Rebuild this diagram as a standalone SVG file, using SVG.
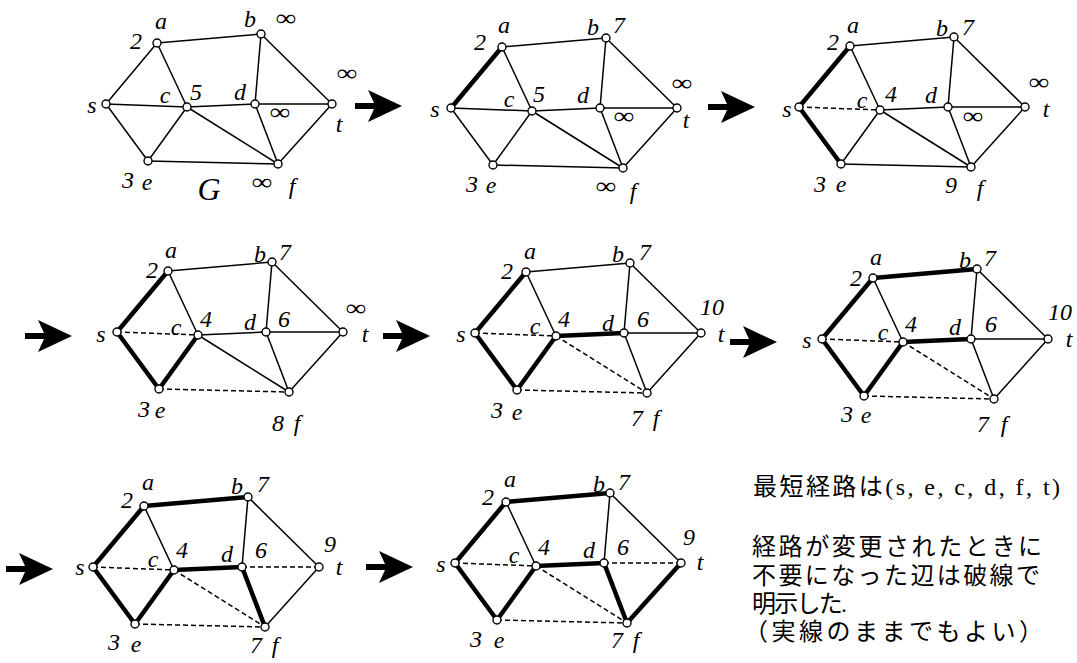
<svg xmlns="http://www.w3.org/2000/svg" xmlns:xlink="http://www.w3.org/1999/xlink" width="1077" height="663" viewBox="0 0 1077 663">
<defs>
<style>
.e{stroke:#000;stroke-width:1.5;fill:none}
.k{stroke-width:4.5}
.h{stroke-dasharray:5 3}
.n{fill:#fff;stroke:#000;stroke-width:1.4}
.l{font-family:"Liberation Serif",serif;font-style:italic;font-size:24px;text-anchor:middle;fill:#000}
.i{font-family:"Liberation Serif",serif;font-size:21px;text-anchor:middle;fill:#000}
.g{font-family:"Liberation Serif",serif;font-style:italic;font-size:32px;text-anchor:middle;fill:#000}
.jp{font-family:"Liberation Serif","Noto Sans CJK JP",serif;font-size:24px;fill:#000}
</style>
<path id="arr" d="M0,0 L-34,-16 L-28,-3 L-47,-3 L-47,3 L-28,3 L-34,16 Z" fill="#000"/>
</defs>
<rect width="1077" height="663" fill="#fff"/>

<!-- Graph 1 -->
<g id="g1">
<g id="g1-edges">
<line class="e" x1="106" y1="104" x2="157" y2="43"/>
<line class="e" x1="106" y1="104" x2="187" y2="107"/>
<line class="e" x1="106" y1="104" x2="148" y2="161"/>
<line class="e" x1="157" y1="43" x2="261" y2="34"/>
<line class="e" x1="157" y1="43" x2="187" y2="107"/>
<line class="e" x1="187" y1="107" x2="148" y2="161"/>
<line class="e" x1="187" y1="107" x2="255" y2="104"/>
<line class="e" x1="187" y1="107" x2="278" y2="164"/>
<line class="e" x1="261" y1="34" x2="255" y2="104"/>
<line class="e" x1="261" y1="34" x2="332" y2="104"/>
<line class="e" x1="255" y1="104" x2="332" y2="104"/>
<line class="e" x1="255" y1="104" x2="278" y2="164"/>
<line class="e" x1="148" y1="161" x2="278" y2="164"/>
<line class="e" x1="332" y1="104" x2="278" y2="164"/>
</g>
<g id="g1-s"><circle class="n" cx="106" cy="104" r="4"/><text class="l" x="92" y="113">s</text></g>
<g id="g1-a"><circle class="n" cx="157" cy="43" r="4"/><text class="l" x="136" y="49">2</text><text class="l" x="161" y="29">a</text></g>
<g id="g1-b"><circle class="n" cx="261" cy="34" r="4"/><text class="l" x="250" y="27">b</text><text class="i" transform="translate(286,19) scale(1.4,1.15)" y="6">∞</text></g>
<g id="g1-c"><circle class="n" cx="187" cy="107" r="4"/><text class="l" x="165" y="103">c</text><text class="l" x="196" y="100">5</text></g>
<g id="g1-d"><circle class="n" cx="255" cy="104" r="4"/><text class="l" x="240" y="100">d</text><text class="i" transform="translate(280,113) scale(1.4,1.15)" y="6">∞</text></g>
<g id="g1-t"><circle class="n" cx="332" cy="104" r="4"/><text class="i" transform="translate(347,74) scale(1.4,1.15)" y="6">∞</text><text class="l" x="339" y="132">t</text></g>
<g id="g1-e"><circle class="n" cx="148" cy="161" r="4"/><text class="l" x="128" y="188">3</text><text class="l" x="147" y="190">e</text></g>
<g id="g1-f"><circle class="n" cx="278" cy="164" r="4"/><text class="i" transform="translate(262,183) scale(1.4,1.15)" y="6">∞</text><text class="l" x="292" y="194">f</text></g>
<text class="g" x="209" y="200">G</text>
</g>

<!-- Graph 2 -->
<g id="g2" transform="translate(345,4)">
<g id="g2-edges">
<line class="e k" x1="106" y1="104" x2="157" y2="43"/>
<line class="e" x1="106" y1="104" x2="187" y2="107"/>
<line class="e" x1="106" y1="104" x2="148" y2="161"/>
<line class="e" x1="157" y1="43" x2="261" y2="34"/>
<line class="e" x1="157" y1="43" x2="187" y2="107"/>
<line class="e" x1="187" y1="107" x2="148" y2="161"/>
<line class="e" x1="187" y1="107" x2="255" y2="104"/>
<line class="e" x1="187" y1="107" x2="278" y2="164"/>
<line class="e" x1="261" y1="34" x2="255" y2="104"/>
<line class="e" x1="261" y1="34" x2="332" y2="104"/>
<line class="e" x1="255" y1="104" x2="332" y2="104"/>
<line class="e" x1="255" y1="104" x2="278" y2="164"/>
<line class="e" x1="148" y1="161" x2="278" y2="164"/>
<line class="e" x1="332" y1="104" x2="278" y2="164"/>
</g>
<g id="g2-s"><circle class="n" cx="106" cy="104" r="4"/><text class="l" x="90" y="113">s</text></g>
<g id="g2-a"><circle class="n" cx="157" cy="43" r="4"/><text class="l" x="135" y="46">2</text><text class="l" x="159" y="29">a</text></g>
<g id="g2-b"><circle class="n" cx="261" cy="34" r="4"/><text class="l" x="248" y="31">b</text><text class="l" x="274" y="29">7</text></g>
<g id="g2-c"><circle class="n" cx="187" cy="107" r="4"/><text class="l" x="164" y="103">c</text><text class="l" x="194" y="98">5</text></g>
<g id="g2-d"><circle class="n" cx="255" cy="104" r="4"/><text class="l" x="238" y="99">d</text><text class="i" transform="translate(279,113) scale(1.4,1.15)" y="6">∞</text></g>
<g id="g2-t"><circle class="n" cx="332" cy="104" r="4"/><text class="i" transform="translate(337,80) scale(1.4,1.15)" y="6">∞</text><text class="l" x="341" y="124">t</text></g>
<g id="g2-e"><circle class="n" cx="148" cy="161" r="4"/><text class="l" x="127" y="188">3</text><text class="l" x="146" y="189">e</text></g>
<g id="g2-f"><circle class="n" cx="278" cy="164" r="4"/><text class="i" transform="translate(261,183) scale(1.4,1.15)" y="6">∞</text><text class="l" x="288" y="195">f</text></g>
</g>

<!-- Graph 3 -->
<g id="g3" transform="translate(693,3)">
<g id="g3-edges">
<line class="e k" x1="106" y1="104" x2="157" y2="43"/>
<line class="e h" x1="106" y1="104" x2="187" y2="107"/>
<line class="e k" x1="106" y1="104" x2="148" y2="161"/>
<line class="e" x1="157" y1="43" x2="261" y2="34"/>
<line class="e" x1="157" y1="43" x2="187" y2="107"/>
<line class="e" x1="187" y1="107" x2="148" y2="161"/>
<line class="e" x1="187" y1="107" x2="255" y2="104"/>
<line class="e" x1="187" y1="107" x2="278" y2="164"/>
<line class="e" x1="261" y1="34" x2="255" y2="104"/>
<line class="e" x1="261" y1="34" x2="332" y2="104"/>
<line class="e" x1="255" y1="104" x2="332" y2="104"/>
<line class="e" x1="255" y1="104" x2="278" y2="164"/>
<line class="e" x1="148" y1="161" x2="278" y2="164"/>
<line class="e" x1="332" y1="104" x2="278" y2="164"/>
</g>
<g id="g3-s"><circle class="n" cx="106" cy="104" r="4"/><text class="l" x="94" y="114">s</text></g>
<g id="g3-a"><circle class="n" cx="157" cy="43" r="4"/><text class="l" x="140" y="47">2</text><text class="l" x="160" y="30">a</text></g>
<g id="g3-b"><circle class="n" cx="261" cy="34" r="4"/><text class="l" x="249" y="33">b</text><text class="l" x="275" y="32">7</text></g>
<g id="g3-c"><circle class="n" cx="187" cy="107" r="4"/><text class="l" x="169" y="105">c</text><text class="l" x="198" y="99">4</text></g>
<g id="g3-d"><circle class="n" cx="255" cy="104" r="4"/><text class="l" x="238" y="100">d</text><text class="i" transform="translate(280,114) scale(1.4,1.15)" y="6">∞</text></g>
<g id="g3-t"><circle class="n" cx="332" cy="104" r="4"/><text class="i" transform="translate(346,80) scale(1.4,1.15)" y="6">∞</text><text class="l" x="353" y="114">t</text></g>
<g id="g3-e"><circle class="n" cx="148" cy="161" r="4"/><text class="l" x="127" y="189">3</text><text class="l" x="148" y="189">e</text></g>
<g id="g3-f"><circle class="n" cx="278" cy="164" r="4"/><text class="l" x="258" y="190">9</text><text class="l" x="287" y="193">f</text></g>
</g>

<!-- Graph 4 -->
<g id="g4" transform="translate(11,228)">
<g id="g4-edges">
<line class="e k" x1="106" y1="104" x2="157" y2="43"/>
<line class="e h" x1="106" y1="104" x2="187" y2="107"/>
<line class="e k" x1="106" y1="104" x2="148" y2="161"/>
<line class="e" x1="157" y1="43" x2="261" y2="34"/>
<line class="e" x1="157" y1="43" x2="187" y2="107"/>
<line class="e k" x1="187" y1="107" x2="148" y2="161"/>
<line class="e" x1="187" y1="107" x2="255" y2="104"/>
<line class="e" x1="187" y1="107" x2="278" y2="164"/>
<line class="e" x1="261" y1="34" x2="255" y2="104"/>
<line class="e" x1="261" y1="34" x2="332" y2="104"/>
<line class="e" x1="255" y1="104" x2="332" y2="104"/>
<line class="e" x1="255" y1="104" x2="278" y2="164"/>
<line class="e h" x1="148" y1="161" x2="278" y2="164"/>
<line class="e" x1="332" y1="104" x2="278" y2="164"/>
</g>
<g id="g4-s"><circle class="n" cx="106" cy="104" r="4"/><text class="l" x="90" y="114">s</text></g>
<g id="g4-a"><circle class="n" cx="157" cy="43" r="4"/><text class="l" x="141" y="50">2</text><text class="l" x="160" y="30">a</text></g>
<g id="g4-b"><circle class="n" cx="261" cy="34" r="4"/><text class="l" x="249" y="34">b</text><text class="l" x="274" y="32">7</text></g>
<g id="g4-c"><circle class="n" cx="187" cy="107" r="4"/><text class="l" x="165" y="107">c</text><text class="l" x="195" y="99">4</text></g>
<g id="g4-d"><circle class="n" cx="255" cy="104" r="4"/><text class="l" x="239" y="102">d</text><text class="l" x="273" y="99">6</text></g>
<g id="g4-t"><circle class="n" cx="332" cy="104" r="4"/><text class="i" transform="translate(345,81) scale(1.4,1.15)" y="6">∞</text><text class="l" x="354" y="114">t</text></g>
<g id="g4-e"><circle class="n" cx="148" cy="161" r="4"/><text class="l" x="133" y="189">3</text><text class="l" x="149" y="190">e</text></g>
<g id="g4-f"><circle class="n" cx="278" cy="164" r="4"/><text class="l" x="267" y="203">8</text><text class="l" x="286" y="203">f</text></g>
</g>

<!-- Graph 5 -->
<g id="g5" transform="translate(369,229)">
<g id="g5-edges">
<line class="e k" x1="106" y1="104" x2="157" y2="43"/>
<line class="e h" x1="106" y1="104" x2="187" y2="107"/>
<line class="e k" x1="106" y1="104" x2="148" y2="161"/>
<line class="e" x1="157" y1="43" x2="261" y2="34"/>
<line class="e" x1="157" y1="43" x2="187" y2="107"/>
<line class="e k" x1="187" y1="107" x2="148" y2="161"/>
<line class="e k" x1="187" y1="107" x2="255" y2="104"/>
<line class="e h" x1="187" y1="107" x2="278" y2="164"/>
<line class="e" x1="261" y1="34" x2="255" y2="104"/>
<line class="e" x1="261" y1="34" x2="332" y2="104"/>
<line class="e" x1="255" y1="104" x2="332" y2="104"/>
<line class="e" x1="255" y1="104" x2="278" y2="164"/>
<line class="e h" x1="148" y1="161" x2="278" y2="164"/>
<line class="e" x1="332" y1="104" x2="278" y2="164"/>
</g>
<g id="g5-s"><circle class="n" cx="106" cy="104" r="4"/><text class="l" x="92" y="113">s</text></g>
<g id="g5-a"><circle class="n" cx="157" cy="43" r="4"/><text class="l" x="138" y="50">2</text><text class="l" x="161" y="30">a</text></g>
<g id="g5-b"><circle class="n" cx="261" cy="34" r="4"/><text class="l" x="249" y="33">b</text><text class="l" x="276" y="31">7</text></g>
<g id="g5-c"><circle class="n" cx="187" cy="107" r="4"/><text class="l" x="166" y="105">c</text><text class="l" x="195" y="98">4</text></g>
<g id="g5-d"><circle class="n" cx="255" cy="104" r="4"/><text class="l" x="239" y="102">d</text><text class="l" x="274" y="98">6</text></g>
<g id="g5-t"><circle class="n" cx="332" cy="104" r="4"/><text class="l" x="343" y="86">10</text><text class="l" x="352" y="113">t</text></g>
<g id="g5-e"><circle class="n" cx="148" cy="161" r="4"/><text class="l" x="128" y="189">3</text><text class="l" x="148" y="191">e</text></g>
<g id="g5-f"><circle class="n" cx="278" cy="164" r="4"/><text class="l" x="268" y="197">7</text><text class="l" x="287" y="197">f</text></g>
</g>

<!-- Graph 6 -->
<g id="g6" transform="translate(716,235)">
<g id="g6-edges">
<line class="e k" x1="106" y1="104" x2="157" y2="43"/>
<line class="e h" x1="106" y1="104" x2="187" y2="107"/>
<line class="e k" x1="106" y1="104" x2="148" y2="161"/>
<line class="e k" x1="157" y1="43" x2="261" y2="34"/>
<line class="e" x1="157" y1="43" x2="187" y2="107"/>
<line class="e k" x1="187" y1="107" x2="148" y2="161"/>
<line class="e k" x1="187" y1="107" x2="255" y2="104"/>
<line class="e h" x1="187" y1="107" x2="278" y2="164"/>
<line class="e" x1="261" y1="34" x2="255" y2="104"/>
<line class="e" x1="261" y1="34" x2="332" y2="104"/>
<line class="e" x1="255" y1="104" x2="332" y2="104"/>
<line class="e" x1="255" y1="104" x2="278" y2="164"/>
<line class="e h" x1="148" y1="161" x2="278" y2="164"/>
<line class="e" x1="332" y1="104" x2="278" y2="164"/>
</g>
<g id="g6-s"><circle class="n" cx="106" cy="104" r="4"/><text class="l" x="91" y="113">s</text></g>
<g id="g6-a"><circle class="n" cx="157" cy="43" r="4"/><text class="l" x="140" y="51">2</text><text class="l" x="160" y="30">a</text></g>
<g id="g6-b"><circle class="n" cx="261" cy="34" r="4"/><text class="l" x="249" y="33">b</text><text class="l" x="274" y="31">7</text></g>
<g id="g6-c"><circle class="n" cx="187" cy="107" r="4"/><text class="l" x="167" y="105">c</text><text class="l" x="195" y="97">4</text></g>
<g id="g6-d"><circle class="n" cx="255" cy="104" r="4"/><text class="l" x="239" y="100">d</text><text class="l" x="275" y="97">6</text></g>
<g id="g6-t"><circle class="n" cx="332" cy="104" r="4"/><text class="l" x="344" y="85">10</text><text class="l" x="353" y="112">t</text></g>
<g id="g6-e"><circle class="n" cx="148" cy="161" r="4"/><text class="l" x="131" y="187">3</text><text class="l" x="150" y="188">e</text></g>
<g id="g6-f"><circle class="n" cx="278" cy="164" r="4"/><text class="l" x="267" y="197">7</text><text class="l" x="288" y="197">f</text></g>
</g>

<!-- Graph 7 -->
<g id="g7" transform="translate(-13,463)">
<g id="g7-edges">
<line class="e k" x1="106" y1="104" x2="157" y2="43"/>
<line class="e h" x1="106" y1="104" x2="187" y2="107"/>
<line class="e k" x1="106" y1="104" x2="148" y2="161"/>
<line class="e k" x1="157" y1="43" x2="261" y2="34"/>
<line class="e" x1="157" y1="43" x2="187" y2="107"/>
<line class="e k" x1="187" y1="107" x2="148" y2="161"/>
<line class="e k" x1="187" y1="107" x2="255" y2="104"/>
<line class="e h" x1="187" y1="107" x2="278" y2="164"/>
<line class="e" x1="261" y1="34" x2="255" y2="104"/>
<line class="e" x1="261" y1="34" x2="332" y2="104"/>
<line class="e h" x1="255" y1="104" x2="332" y2="104"/>
<line class="e k" x1="255" y1="104" x2="278" y2="164"/>
<line class="e h" x1="148" y1="161" x2="278" y2="164"/>
<line class="e" x1="332" y1="104" x2="278" y2="164"/>
</g>
<g id="g7-s"><circle class="n" cx="106" cy="104" r="4"/><text class="l" x="93" y="112">s</text></g>
<g id="g7-a"><circle class="n" cx="157" cy="43" r="4"/><text class="l" x="140" y="45">2</text><text class="l" x="161" y="27">a</text></g>
<g id="g7-b"><circle class="n" cx="261" cy="34" r="4"/><text class="l" x="250" y="31">b</text><text class="l" x="276" y="29">7</text></g>
<g id="g7-c"><circle class="n" cx="187" cy="107" r="4"/><text class="l" x="166" y="104">c</text><text class="l" x="195" y="95">4</text></g>
<g id="g7-d"><circle class="n" cx="255" cy="104" r="4"/><text class="l" x="240" y="99">d</text><text class="l" x="274" y="95">6</text></g>
<g id="g7-t"><circle class="n" cx="332" cy="104" r="4"/><text class="l" x="343" y="89">9</text><text class="l" x="352" y="112">t</text></g>
<g id="g7-e"><circle class="n" cx="148" cy="161" r="4"/><text class="l" x="127" y="187">3</text><text class="l" x="149" y="189">e</text></g>
<g id="g7-f"><circle class="n" cx="278" cy="164" r="4"/><text class="l" x="269" y="190">7</text><text class="l" x="288" y="190">f</text></g>
</g>

<!-- Graph 8 -->
<g id="g8" transform="translate(349,459)">
<g id="g8-edges">
<line class="e k" x1="106" y1="104" x2="157" y2="43"/>
<line class="e h" x1="106" y1="104" x2="187" y2="107"/>
<line class="e k" x1="106" y1="104" x2="148" y2="161"/>
<line class="e k" x1="157" y1="43" x2="261" y2="34"/>
<line class="e" x1="157" y1="43" x2="187" y2="107"/>
<line class="e k" x1="187" y1="107" x2="148" y2="161"/>
<line class="e k" x1="187" y1="107" x2="255" y2="104"/>
<line class="e h" x1="187" y1="107" x2="278" y2="164"/>
<line class="e" x1="261" y1="34" x2="255" y2="104"/>
<line class="e" x1="261" y1="34" x2="332" y2="104"/>
<line class="e h" x1="255" y1="104" x2="332" y2="104"/>
<line class="e k" x1="255" y1="104" x2="278" y2="164"/>
<line class="e h" x1="148" y1="161" x2="278" y2="164"/>
<line class="e k" x1="332" y1="104" x2="278" y2="164"/>
</g>
<g id="g8-s"><circle class="n" cx="106" cy="104" r="4"/><text class="l" x="92" y="113">s</text></g>
<g id="g8-a"><circle class="n" cx="157" cy="43" r="4"/><text class="l" x="139" y="46">2</text><text class="l" x="161" y="28">a</text></g>
<g id="g8-b"><circle class="n" cx="261" cy="34" r="4"/><text class="l" x="250" y="33">b</text><text class="l" x="275" y="31">7</text></g>
<g id="g8-c"><circle class="n" cx="187" cy="107" r="4"/><text class="l" x="165" y="104">c</text><text class="l" x="195" y="96">4</text></g>
<g id="g8-d"><circle class="n" cx="255" cy="104" r="4"/><text class="l" x="240" y="99">d</text><text class="l" x="274" y="96">6</text></g>
<g id="g8-t"><circle class="n" cx="332" cy="104" r="4"/><text class="l" x="340" y="86">9</text><text class="l" x="351" y="111">t</text></g>
<g id="g8-e"><circle class="n" cx="148" cy="161" r="4"/><text class="l" x="127" y="188">3</text><text class="l" x="150" y="189">e</text></g>
<g id="g8-f"><circle class="n" cx="278" cy="164" r="4"/><text class="l" x="268" y="189">7</text><text class="l" x="287" y="189">f</text></g>
</g>

<!-- Step arrows -->
<g id="arrows">
<use xlink:href="#arr" href="#arr" transform="translate(402,106)"/>
<use xlink:href="#arr" href="#arr" transform="translate(755,107)"/>
<use xlink:href="#arr" href="#arr" transform="translate(72,336)"/>
<use xlink:href="#arr" href="#arr" transform="translate(430,336)"/>
<use xlink:href="#arr" href="#arr" transform="translate(777,342)"/>
<use xlink:href="#arr" href="#arr" transform="translate(53,569)"/>
<use xlink:href="#arr" href="#arr" transform="translate(413,567)"/>
</g>

<!-- Notes -->
<g id="notes">
<text class="jp" x="753" y="495" textLength="307" lengthAdjust="spacing">最短経路は(s, e, c, d, f, t)</text>
<text class="jp" x="752" y="555" textLength="290" lengthAdjust="spacing">経路が変更されたときに</text>
<text class="jp" x="752" y="584" textLength="288" lengthAdjust="spacing">不要になった辺は破線で</text>
<text class="jp" x="752" y="612" textLength="95" lengthAdjust="spacing">明示した.</text>
<text class="jp" x="744" y="640" textLength="299" lengthAdjust="spacing">（実線のままでもよい）</text>
</g>
</svg>
